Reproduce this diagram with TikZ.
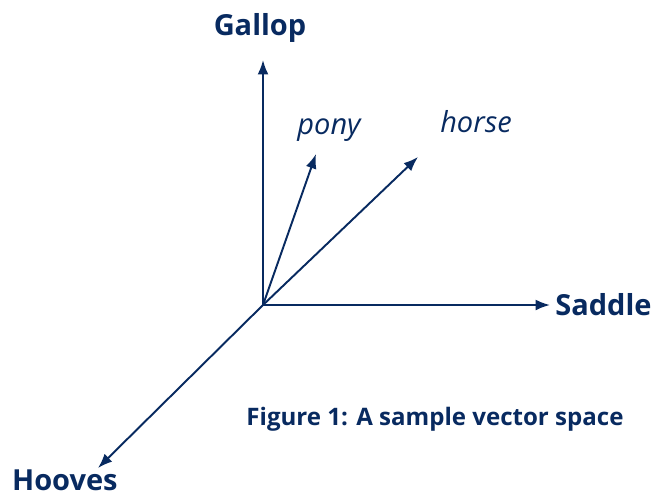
\documentclass[tikz,border=0pt]{standalone}
\usepackage{fontspec}
\setmainfont{Open Sans}
\usetikzlibrary{
    arrows.meta,
    positioning
}
\definecolor{spacenavy}{RGB}{8,42,96}

\begin{document}
\begin{tikzpicture}[
    x=0.02cm,
    y=-0.02cm,
    axisarrow/.style={
        -{Latex[length=2.9mm,width=2.2mm]},
        line width=1.1pt,
        draw=spacenavy
    },
    axislabel/.style={
        text=spacenavy,
        font=\fontsize{16.5}{19}\selectfont\bfseries,
        inner sep=0pt
    },
    wordlabel/.style={
        text=spacenavy,
        font=\fontsize{16.5}{19}\selectfont\itshape,
        inner sep=0pt
    }
]
\useasboundingbox (0,0) rectangle (662,497);

\coordinate (origin) at (263,305);
\coordinate (gallop) at (263,60);
\coordinate (saddle) at (550,305);
\coordinate (hooves) at (98,468);
\coordinate (pony) at (316,154);
\coordinate (horse) at (418,157);

\node[axislabel, above=0.34cm of gallop, xshift=-0.06cm] (gallopname) {Gallop};
\node[axislabel, right=0.1cm of saddle] (saddlename) {Saddle};
\node[axislabel, text depth=0pt, below left=0.02cm and -0.4cm of hooves] (hoovesname) {Hooves};
\node[wordlabel, above=0.24cm of pony, xshift=0.26cm] (ponyname) {pony};
\node[wordlabel, above=0.48cm of horse, xshift=1.16cm] (horsename) {horse};

\node[
    text=spacenavy,
    font=\fontsize{13.7}{16}\selectfont\bfseries,
    inner sep=0pt
] (caption) at (435,419) {Figure 1: A sample vector space};

\draw[axisarrow] (origin) -- (gallop);
\draw[axisarrow] (origin) -- (saddle);
\draw[axisarrow] (origin) -- (hooves);
\draw[axisarrow] (origin) -- (pony);
\draw[axisarrow] (origin) -- (horse);

\end{tikzpicture}
\end{document}
